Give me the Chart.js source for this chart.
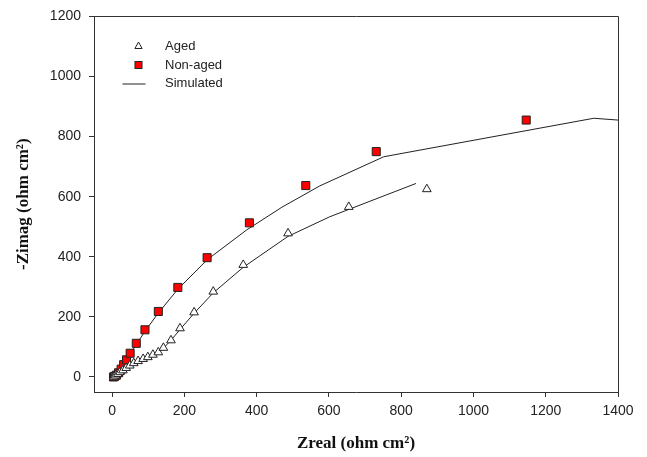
<!DOCTYPE html>
<html>
<head>
<meta charset="utf-8">
<title>Nyquist plot</title>
<script src="https://cdn.jsdelivr.net/npm/chart.js@4.4.1/dist/chart.umd.min.js"></script>
<style>
  html, body { margin: 0; padding: 0; background: #fff; }
  canvas { display: block; }
</style>
</head>
<body>
<canvas id="nyquist" width="647" height="457"></canvas>
<script>
// measured impedance points (Zreal, -Zimag), ohm cm2
const agedX = [5, 10, 16, 22, 30, 39, 49, 60, 72, 86, 99, 113, 128, 142, 163, 188, 227, 280, 363, 487, 655, 871];
const agedY = [1, 5, 10, 16, 22, 30, 38, 46, 53, 60, 66, 74, 82, 97, 122, 162, 215, 284, 373, 478, 566, 625];

const nonAgedX = [4, 7, 12, 18, 25, 32, 40, 50, 67, 91, 128, 182, 263, 380, 536, 731, 1146];
const nonAgedY = [0, 2, 6, 14, 26, 41, 57, 79, 112, 157, 218, 298, 397, 513, 637, 750, 855];

// fitted (simulated) curves
const simAgedX = [0, 10, 22, 39, 60, 86, 113, 128, 142, 163, 188, 227, 280, 363, 487, 602, 841];
const simAgedY = [0, 5, 15, 29, 44, 59, 72, 82, 96, 122, 158, 212, 280, 365, 468, 533, 644];

const simNonAgedX = [0, 8, 18, 32, 50, 67, 91, 128, 182, 263, 372, 470, 575, 752, 1333, 1400];
const simNonAgedY = [0, 4, 15, 40, 76, 108, 152, 213, 292, 390, 489, 565, 636, 733, 861, 855];

const xTicks = [0, 200, 400, 600, 800, 1000, 1200, 1400];
const yTicks = [0, 200, 400, 600, 800, 1000, 1200];

function zip(xs, ys) {
    return xs.map((x, i) => ({ x: x, y: ys[i] }));
}

const inkColor = '#222';
const sansFont = "'Liberation Sans', Arial, sans-serif";
const serifFont = "'Liberation Serif', 'Times New Roman', serif";

// frame on top and right of the plot area
const frameBox = {
    id: 'frameBox',
    afterDraw(chart) {
        const { ctx, chartArea: a } = chart;
        ctx.save();
        ctx.strokeStyle = '#333';
        ctx.lineWidth = 1;
        ctx.beginPath();
        ctx.moveTo(Math.round(a.left) + 0.5, Math.round(a.top) + 0.5);
        ctx.lineTo(Math.round(a.right) + 0.5, Math.round(a.top) + 0.5);
        ctx.lineTo(Math.round(a.right) + 0.5, Math.round(a.bottom) + 0.5);
        ctx.stroke();
        ctx.restore();
    }
};

// legend inside the plot, upper left
const insetLegend = {
    id: 'insetLegend',
    afterDraw(chart) {
        const ctx = chart.ctx;
        const symX = 138.5;
        const textX = 165;
        const rows = [46, 65, 83.5];
        ctx.save();
        ctx.lineWidth = 1;
        ctx.strokeStyle = '#222';

        // triangle
        ctx.fillStyle = '#fff';
        ctx.beginPath();
        ctx.moveTo(symX, rows[0] - 4);
        ctx.lineTo(symX + 3.6, rows[0] + 2.5);
        ctx.lineTo(symX - 3.6, rows[0] + 2.5);
        ctx.closePath();
        ctx.fill();
        ctx.stroke();

        // square
        ctx.fillStyle = '#ff0000';
        ctx.fillRect(symX - 3.5, rows[1] - 3.5, 7, 7);
        ctx.strokeRect(symX - 3.5, rows[1] - 3.5, 7, 7);

        // line
        ctx.beginPath();
        ctx.moveTo(122.5, rows[2] + 0.5);
        ctx.lineTo(145.5, rows[2] + 0.5);
        ctx.stroke();

        ctx.fillStyle = inkColor;
        ctx.font = '13px ' + sansFont;
        ctx.textBaseline = 'middle';
        ctx.fillText('Aged', textX, rows[0]);
        ctx.fillText('Non-aged', textX, rows[1]);
        ctx.fillText('Simulated', textX, rows[2]);
        ctx.restore();
    }
};

const ctx = document.getElementById('nyquist').getContext('2d');

new Chart(ctx, {
    type: 'scatter',
    data: {
        datasets: [
            {
                label: 'Aged',
                data: zip(agedX, agedY),
                pointStyle: 'triangle',
                pointRadius: 5,
                backgroundColor: '#fff',
                borderColor: '#222',
                borderWidth: 1
            },
            {
                label: 'Non-aged',
                data: zip(nonAgedX, nonAgedY),
                pointStyle: 'rect',
                pointRadius: 5.7,
                backgroundColor: '#ff0000',
                borderColor: '#222',
                borderWidth: 1
            },
            {
                label: 'Simulated',
                data: zip(simAgedX, simAgedY),
                showLine: true,
                pointRadius: 0,
                borderColor: '#222',
                borderWidth: 1,
                tension: 0
            },
            {
                label: 'Simulated (non-aged)',
                data: zip(simNonAgedX, simNonAgedY),
                showLine: true,
                pointRadius: 0,
                borderColor: '#222',
                borderWidth: 1,
                tension: 0
            }
        ]
    },
    options: {
        responsive: false,
        animation: false,
        layout: {
            padding: { top: 15, right: 29, bottom: 0, left: 0 }
        },
        plugins: {
            legend: { display: false },
            tooltip: { enabled: false }
        },
        scales: {
            x: {
                type: 'linear',
                min: -50,
                max: 1400,
                afterBuildTicks: scale => {
                    scale.ticks = xTicks.map(v => ({ value: v }));
                },
                afterFit: scale => { scale.height = 65; },
                ticks: {
                    color: inkColor,
                    font: { family: sansFont, size: 14 },
                    padding: 6,
                    maxRotation: 0,
                    callback: v => String(v)
                },
                grid: {
                    drawOnChartArea: false,
                    drawTicks: true,
                    tickLength: 5,
                    color: '#333'
                },
                border: { display: true, color: '#333', width: 1 },
                title: {
                    display: true,
                    text: 'Zreal (ohm cm²)',
                    color: '#111',
                    font: { family: serifFont, size: 17, weight: 'bold' },
                    padding: { top: 0, bottom: 3 }
                }
            },
            y: {
                type: 'linear',
                min: -50,
                max: 1200,
                afterBuildTicks: scale => {
                    scale.ticks = yTicks.map(v => ({ value: v }));
                },
                afterFit: scale => { scale.width = 94; },
                ticks: {
                    color: inkColor,
                    font: { family: sansFont, size: 14 },
                    padding: 8,
                    callback: v => String(v)
                },
                grid: {
                    drawOnChartArea: false,
                    drawTicks: true,
                    tickLength: 5,
                    color: '#333'
                },
                border: { display: true, color: '#333', width: 1 },
                title: {
                    display: true,
                    text: '-Zimag (ohm cm²)',
                    color: '#111',
                    font: { family: serifFont, size: 17, weight: 'bold' },
                    padding: { top: 13, bottom: 0 }
                }
            }
        }
    },
    plugins: [frameBox, insetLegend]
});
</script>
</body>
</html>
